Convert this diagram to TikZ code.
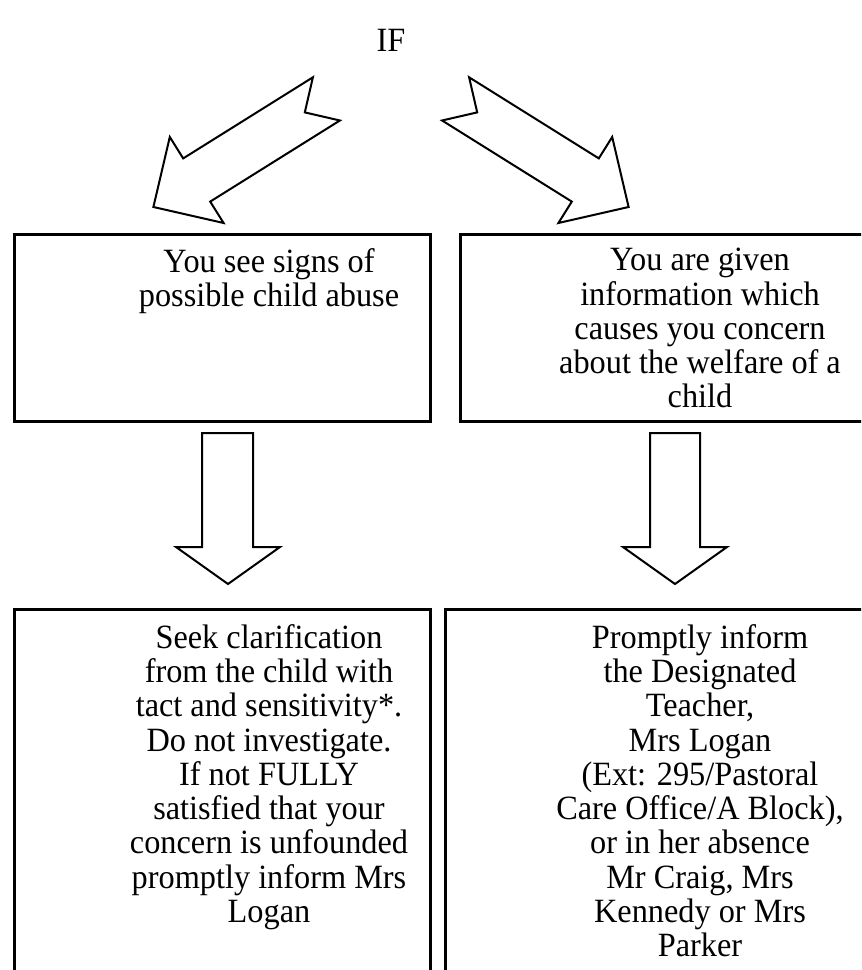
\documentclass[tikz,border=0pt]{standalone}
\usepackage{fontspec}
\setmainfont{Liberation Serif}[FakeStretch=0.95]
\usetikzlibrary{positioning}

\begin{document}
\begin{tikzpicture}[x=0.75pt,y=-0.75pt,
  box/.style={draw,line width=2.2pt,inner sep=0pt,anchor=north west},
  txt/.style={align=center,inner sep=0pt,anchor=north,font=\fontsize{25.5}{25.7}\selectfont},
  blockarrow/.style={draw,line width=1.5pt,line join=miter,fill=white}]
\useasboundingbox (0,0) rectangle (861,970);
\clip (0,0) rectangle (861,970);

\node[txt,anchor=base] (ifText) at (391,52) {IF};

% the two slanted arrows under IF
\draw[blockarrow] (312.9,77.3) -- (183.2,158.4) -- (169.8,137.0) -- (153.4,207.0) -- (223.6,223.0)
  -- (210.2,201.6) -- (339.9,120.5) -- (304.8,112.4) -- cycle;
\draw[blockarrow] (469.1,77.3) -- (598.8,158.4) -- (612.2,137.0) -- (628.6,207.0) -- (558.4,223.0)
  -- (571.8,201.6) -- (442.1,120.5) -- (477.2,112.4) -- cycle;

\node[box,minimum width=312pt,minimum height=140.25pt] (seeBox) at (13,233) {};
\node[box,minimum width=405.75pt,minimum height=140.25pt] (givenBox) at (459,233) {};
\node[txt] (seeText) at (269,248) {You see signs of\\possible child abuse};
\node[txt] (givenText) at (700,248) {You are given\\information which\\causes you concern\\about the welfare of a\\child};

% down arrows
\draw[blockarrow] (202,433) -- (253,433) -- (253,547) -- (280,547) -- (228,584) -- (176,547) -- (202,547) -- cycle;
\draw[blockarrow] (650,433) -- (700,433) -- (700,547) -- (727,547) -- (675,584) -- (623,547) -- (650,547) -- cycle;

\node[box,minimum width=312pt,minimum height=292.5pt] (seekBox) at (13,608) {};
\node[box,minimum width=417pt,minimum height=292.5pt] (informBox) at (444,608) {};
\node[txt] (seekText) at (269,624) {Seek clarification\\from the child with\\tact and sensitivity*.\\Do not investigate.\\If not FULLY\\satisfied that your\\concern is unfounded\\promptly inform Mrs\\Logan};
\node[txt] (informText) at (700,624) {Promptly inform\\the Designated\\Teacher,\\Mrs Logan\\(Ext: 295/Pastoral\\Care Office/A Block),\\or in her absence\\Mr Craig, Mrs\\Kennedy or Mrs\\Parker};
\end{tikzpicture}
\end{document}
